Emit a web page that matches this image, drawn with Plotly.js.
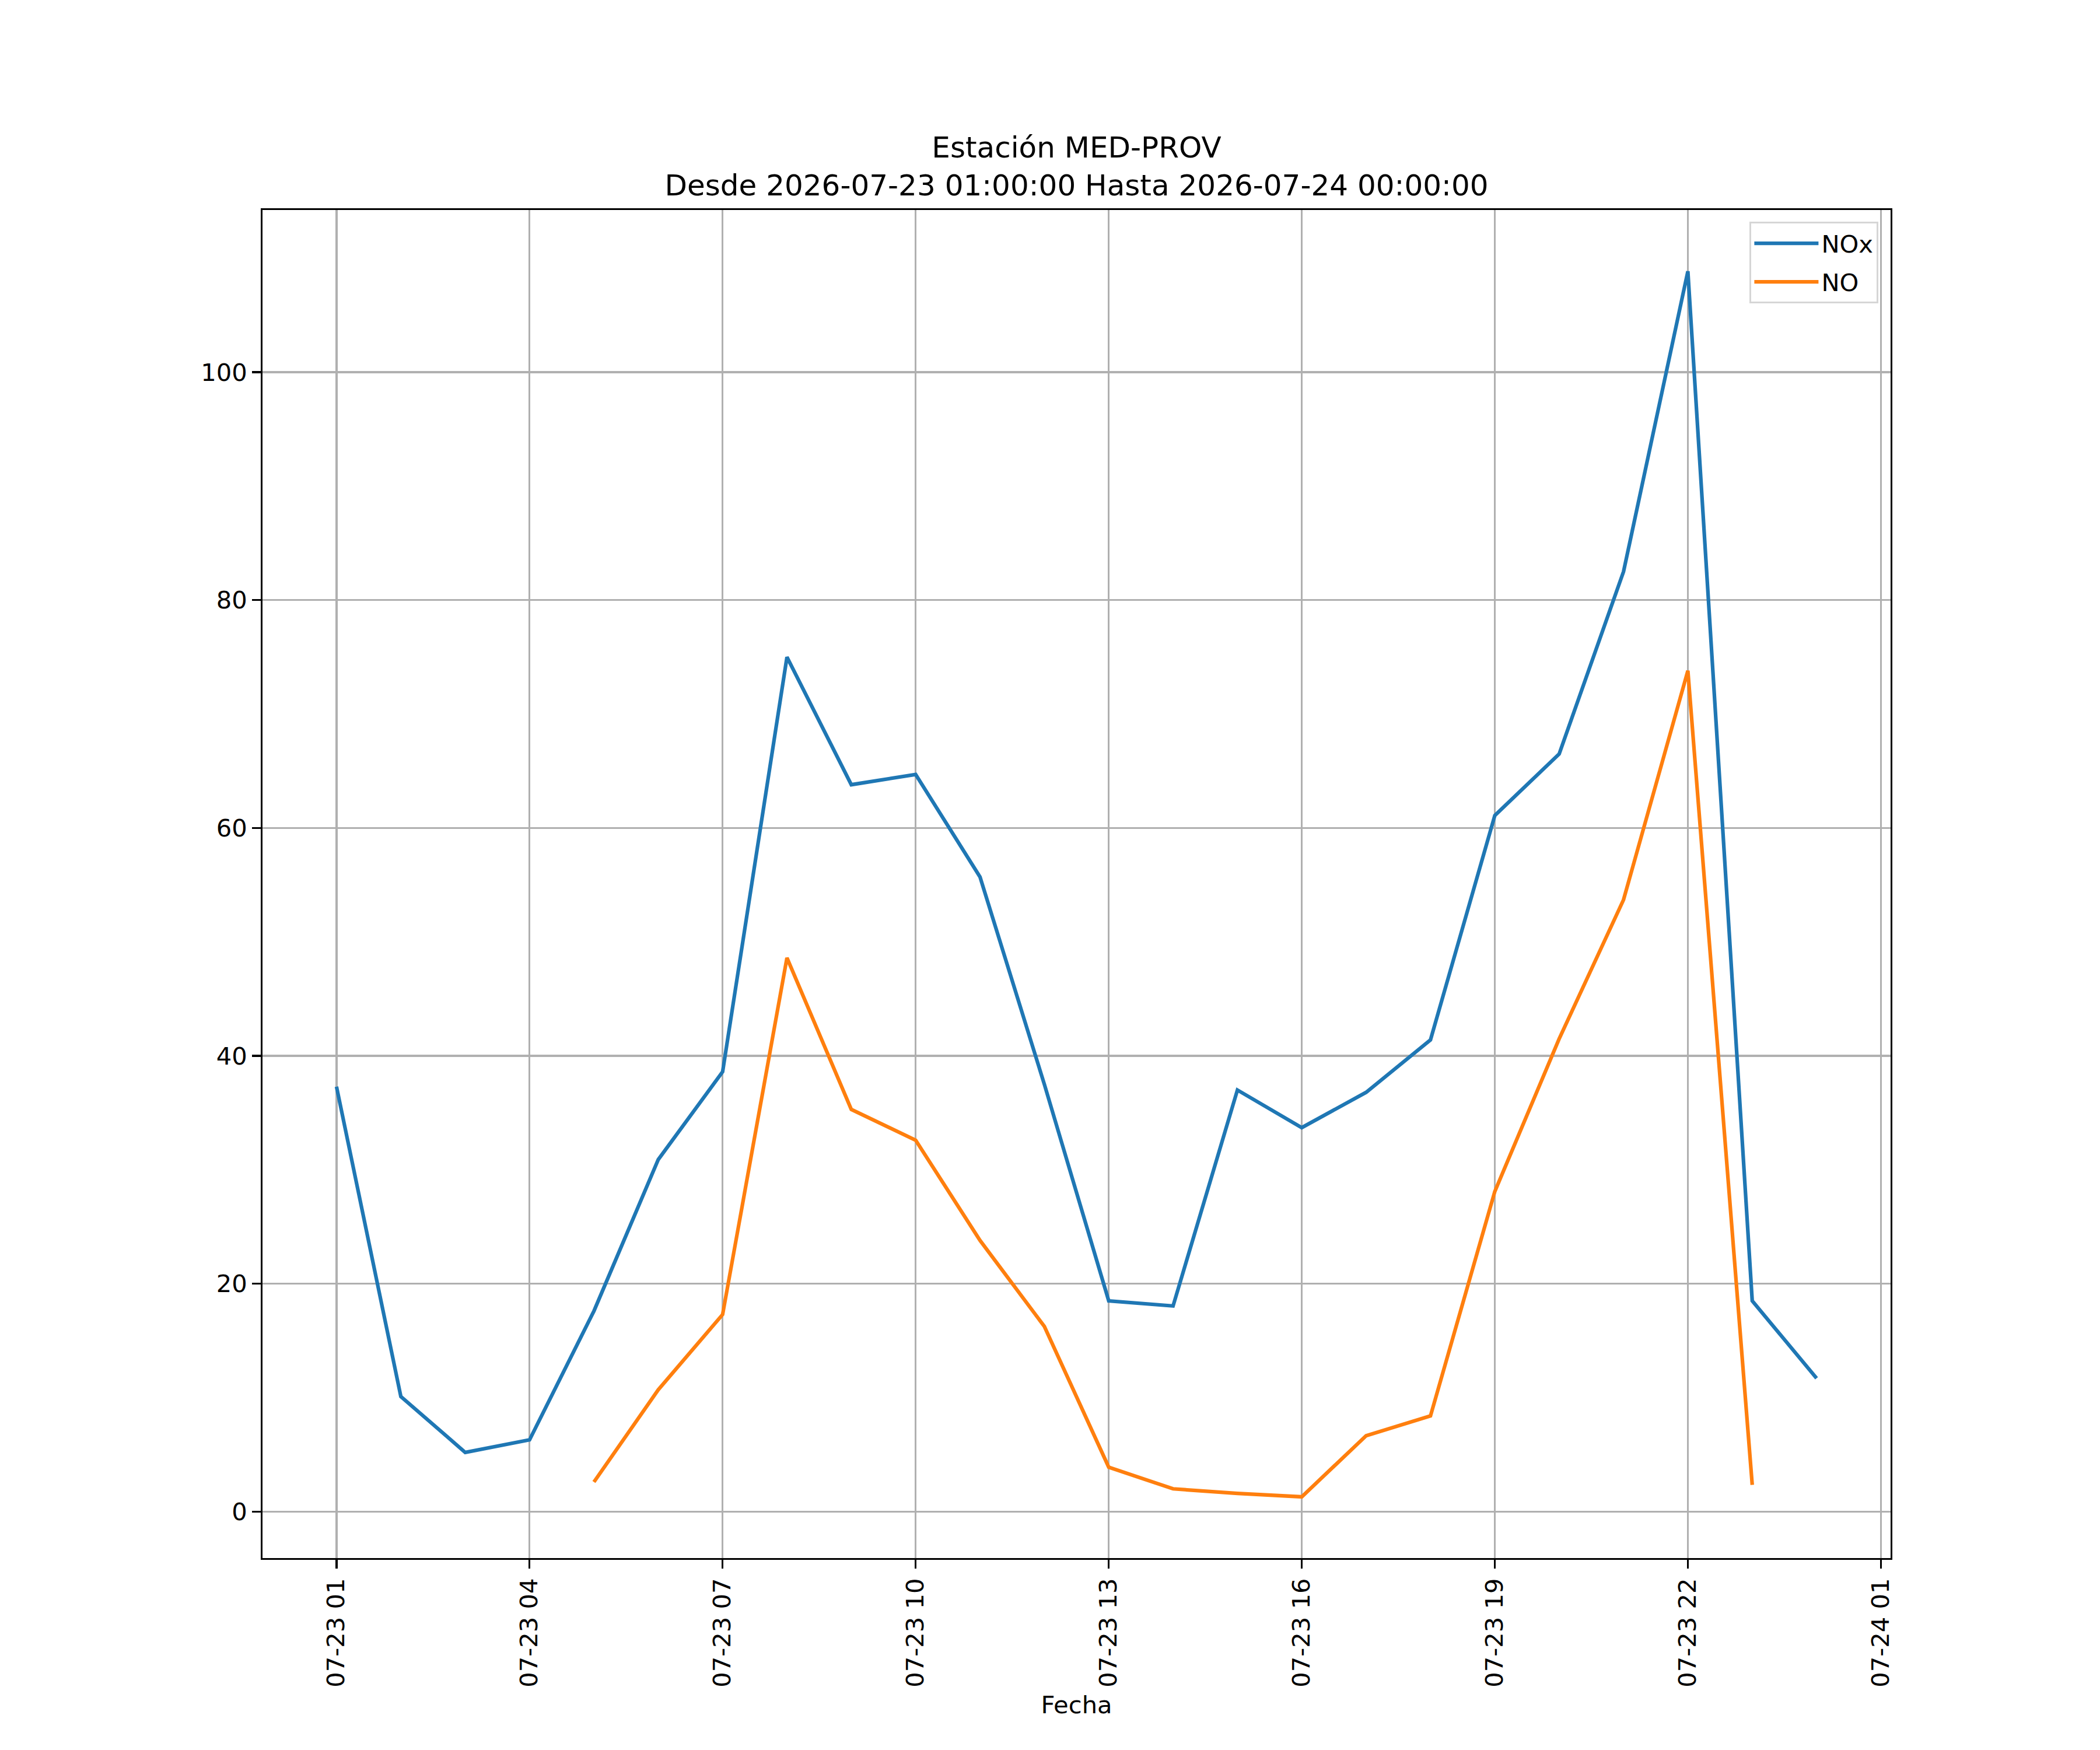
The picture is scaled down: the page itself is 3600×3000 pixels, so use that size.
<!DOCTYPE html>
<html>
<head>
<meta charset="utf-8">
<script src="https://cdn.plot.ly/plotly-3.0.1.min.js"></script>
<style>
  html, body { margin: 0; padding: 0; background: #ffffff; }
  #chart { width: 3600px; height: 3000px; }
</style>
</head>
<body>
<div id="chart"></div>
<script>
const TIMES = [
  "2026-07-23 01:00", "2026-07-23 02:00", "2026-07-23 03:00", "2026-07-23 04:00",
  "2026-07-23 05:00", "2026-07-23 06:00", "2026-07-23 07:00", "2026-07-23 08:00",
  "2026-07-23 09:00", "2026-07-23 10:00", "2026-07-23 11:00", "2026-07-23 12:00",
  "2026-07-23 13:00", "2026-07-23 14:00", "2026-07-23 15:00", "2026-07-23 16:00",
  "2026-07-23 17:00", "2026-07-23 18:00", "2026-07-23 19:00", "2026-07-23 20:00",
  "2026-07-23 21:00", "2026-07-23 22:00", "2026-07-23 23:00", "2026-07-24 00:00"
];

const NOX = [37.3, 10.1, 5.2, 6.3, 17.6, 30.9, 38.6, 75.0, 63.8, 64.7, 55.7, 37.5,
             18.5, 18.05, 37.0, 33.7, 36.8, 41.4, 61.1, 66.5, 82.5, 108.86, 18.5, 11.7];

const NO = [null, null, null, null, 2.6, 10.7, 17.3, 48.6, 35.3, 32.6, 23.8, 16.25,
            3.9, 2.0, 1.6, 1.3, 6.66, 8.4, 28.1, 41.5, 53.7, 73.8, 2.35, null];

const TITLE_LINES = ["Estación MED-PROV", "Desde 2026-07-23 01:00:00 Hasta 2026-07-24 00:00:00"];

const FONT = "DejaVu Sans";
const PT = 300 / 72; // px per point at 300 dpi

function paddedRange(lo, hi) {
  const m = (hi - lo) * 0.05;
  return [lo - m, hi + m];
}

function toMs(s) {
  return new Date(s.replace(" ", "T") + ":00Z").getTime();
}

function fmtDate(ms) {
  return new Date(ms).toISOString().replace("T", " ").slice(0, 19);
}

const allVals = NOX.concat(NO).filter(v => v !== null);
const yRange = paddedRange(Math.min(...allVals), Math.max(...allVals));
const xRange = paddedRange(toMs(TIMES[0]), toMs(TIMES[TIMES.length - 1])).map(fmtDate);

const traces = [
  {
    x: TIMES, y: NOX, name: "NOx", type: "scatter", mode: "lines",
    legendgroup: "nox",
    line: { color: "#1f77b4", width: 1.5 * PT }
  },
  {
    x: TIMES, y: NO, name: "NO", type: "scatter", mode: "lines",
    legendgroup: "no",
    connectgaps: false,
    line: { color: "#ff7f0e", width: 1.5 * PT }
  }
];

const axisCommon = {
  showline: true,
  mirror: true,
  linecolor: "#000000",
  linewidth: 0.8 * PT,
  showgrid: true,
  gridcolor: "#b0b0b0",
  gridwidth: 0.8 * PT,
  zeroline: false,
  ticks: "outside",
  ticklen: 3.5 * PT,
  tickwidth: 0.8 * PT,
  tickcolor: "#000000",
  tickfont: { family: FONT, size: 10 * PT, color: "#000000" }
};

const layout = {
  width: 3600,
  height: 3000,
  autosize: false,
  paper_bgcolor: "#ffffff",
  plot_bgcolor: "#ffffff",
  font: { family: FONT, size: 10 * PT, color: "#000000" },
  margin: { l: 450, r: 359, t: 360, b: 329, pad: 0 },
  title: {
    text: TITLE_LINES.join("<br>"),
    font: { family: FONT, size: 12 * PT, color: "#000000" },
    x: 0.5, xref: "paper", xanchor: "center",
    y: 1, yref: "paper", yanchor: "bottom",
    pad: { b: 90 }
  },
  showlegend: true,
  legend: {
    x: 0.9925, y: 0.9913, xanchor: "right", yanchor: "top",
    bgcolor: "rgba(255,255,255,0.8)",
    bordercolor: "#d6d6d6",
    borderwidth: 0.8 * PT,
    itemwidth: 110,
    traceorder: "grouped",
    tracegroupgap: 9,
    font: { family: FONT, size: 10 * PT, color: "#000000" }
  },
  xaxis: Object.assign({}, axisCommon, {
    type: "date",
    range: xRange,
    tick0: TIMES[0],
    dtick: 3 * 3600 * 1000,
    tickformat: "%m-%d %H",
    tickangle: -90,
    title: {
      text: "Fecha",
      font: { family: FONT, size: 10 * PT, color: "#000000" },
      standoff: 4 * PT
    }
  }),
  yaxis: Object.assign({}, axisCommon, {
    range: yRange,
    tick0: 0,
    dtick: 20
  })
};

Plotly.newPlot("chart", traces, layout, { displayModeBar: false, staticPlot: true });
</script>
</body>
</html>
